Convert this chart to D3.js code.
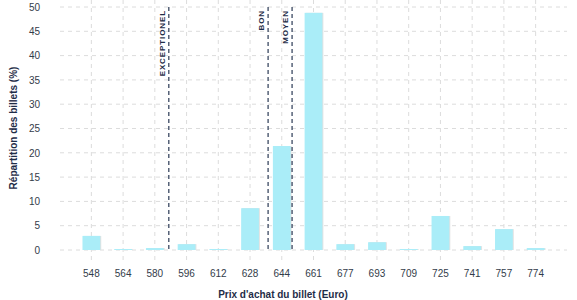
<!DOCTYPE html>
<html>
<head>
<meta charset="utf-8">
<script src="https://cdn.jsdelivr.net/npm/d3@7"></script>
<style>
body { margin:0; background:#fff; }
text { font-family: "Liberation Sans", Arial, sans-serif; }
</style>
</head>
<body>
<svg id="graph"></svg>
<script>
//data
var prices = ["548","564","580","596","612","628","644","661","677","693","709","725","741","757","774"]
var shares = [2.9,0.2,0.4,1.2,0.2,8.6,21.4,48.8,1.2,1.6,0.2,7.0,0.8,4.3,0.4]
var yTicks = [0,5,10,15,20,25,30,35,40,45,50]
var thresholdLabels = ["EXCEPTIONEL","BON","MOYEN"]
var thresholdPrices = [587.4,637.9,650.1]

var svg = d3.select('#graph')
	.attr('width',577)
	.attr('height',300)

var plotLeft = 60, plotRight = 567, plotTop = 7, plotBottom = 250

//scales
var x = d3.scaleBand().domain(prices).range([plotLeft + 15.5, plotRight - 15.5]).paddingInner(0.44).paddingOuter(0.22)
var y = d3.scaleLinear().domain([0,50]).range([plotBottom, plotTop])
var cx = function(p){ return x(p) + x.bandwidth()/2 }
var xp = d3.scaleLinear().domain([+prices[0], +prices[prices.length-1]]).range([cx(prices[0]), cx(prices[prices.length-1])])

var grid = svg.append('g')
grid.selectAll('.hg').data(yTicks).enter().append('line')
	.attr('x1',plotLeft).attr('x2',plotRight)
	.attr('y1',function(d){return y(d)}).attr('y2',function(d){return y(d)})
	.attr('stroke','#dcdcdc').attr('stroke-dasharray','4,4')
grid.selectAll('.vg').data(prices).enter().append('line')
	.attr('x1',function(d){return cx(d)}).attr('x2',function(d){return cx(d)})
	.attr('y1',0).attr('y2',260)
	.attr('stroke','#dcdcdc').attr('stroke-dasharray','4,4')

//bars (with faint shadow)
svg.selectAll('.shadow').data(prices).enter().append('rect')
	.attr('x',function(d){return x(d)+1})
	.attr('y',function(d,i){return y(shares[i])})
	.attr('width',x.bandwidth())
	.attr('height',function(d,i){return plotBottom - y(shares[i])})
	.attr('fill','#e2e2e2')
svg.selectAll('.bar').data(prices).enter().append('rect')
	.attr('x',function(d){return x(d)})
	.attr('y',function(d,i){return y(shares[i])})
	.attr('width',x.bandwidth())
	.attr('height',function(d,i){return plotBottom - y(shares[i])})
	.attr('fill','#aaedf8')

//thresholds
thresholdPrices.forEach(function(p,i){
	var xx = xp(p)
	svg.append('line')
		.attr('x1',xx).attr('x2',xx).attr('y1',plotTop).attr('y2',plotBottom)
		.attr('stroke','#2b3a55').attr('stroke-width',1.2).attr('stroke-dasharray','4,3')
	svg.append('text')
		.attr('transform','translate('+(xx-4)+','+(plotTop+3)+') rotate(-90)')
		.attr('text-anchor','end')
		.attr('font-size',8).attr('font-weight','bold').attr('letter-spacing',0.9)
		.attr('fill','#1f2d48')
		.text(thresholdLabels[i])
})

//axes
var xaxis = svg.append('g')
	.attr('transform','translate(0,'+(plotBottom+16)+')')
	.call(d3.axisBottom(x).tickSize(0).tickPadding(4))
xaxis.select('.domain').remove()
xaxis.selectAll('text').attr('font-size',10).attr('fill','#333c4a').style('font-family','"Liberation Sans", Arial, sans-serif')

var yaxis = svg.append('g')
	.attr('transform','translate(40,0)')
	.call(d3.axisLeft(y).tickValues(yTicks).tickSize(0).tickPadding(0))
yaxis.select('.domain').remove()
yaxis.selectAll('text').attr('font-size',10).attr('fill','#333c4a').style('font-family','"Liberation Sans", Arial, sans-serif')

svg.append('text')
	.attr('x',283).attr('y',298)
	.attr('text-anchor','middle')
	.attr('font-size',10).attr('font-weight','bold').attr('fill','#1f2d48')
	.text("Prix d'achat du billet (Euro)")
svg.append('text')
	.attr('transform','translate(17,128) rotate(-90)')
	.attr('text-anchor','middle')
	.attr('font-size',10).attr('font-weight','bold').attr('fill','#1f2d48')
	.text("Répartition des billets (%)")
</script>
</body>
</html>
